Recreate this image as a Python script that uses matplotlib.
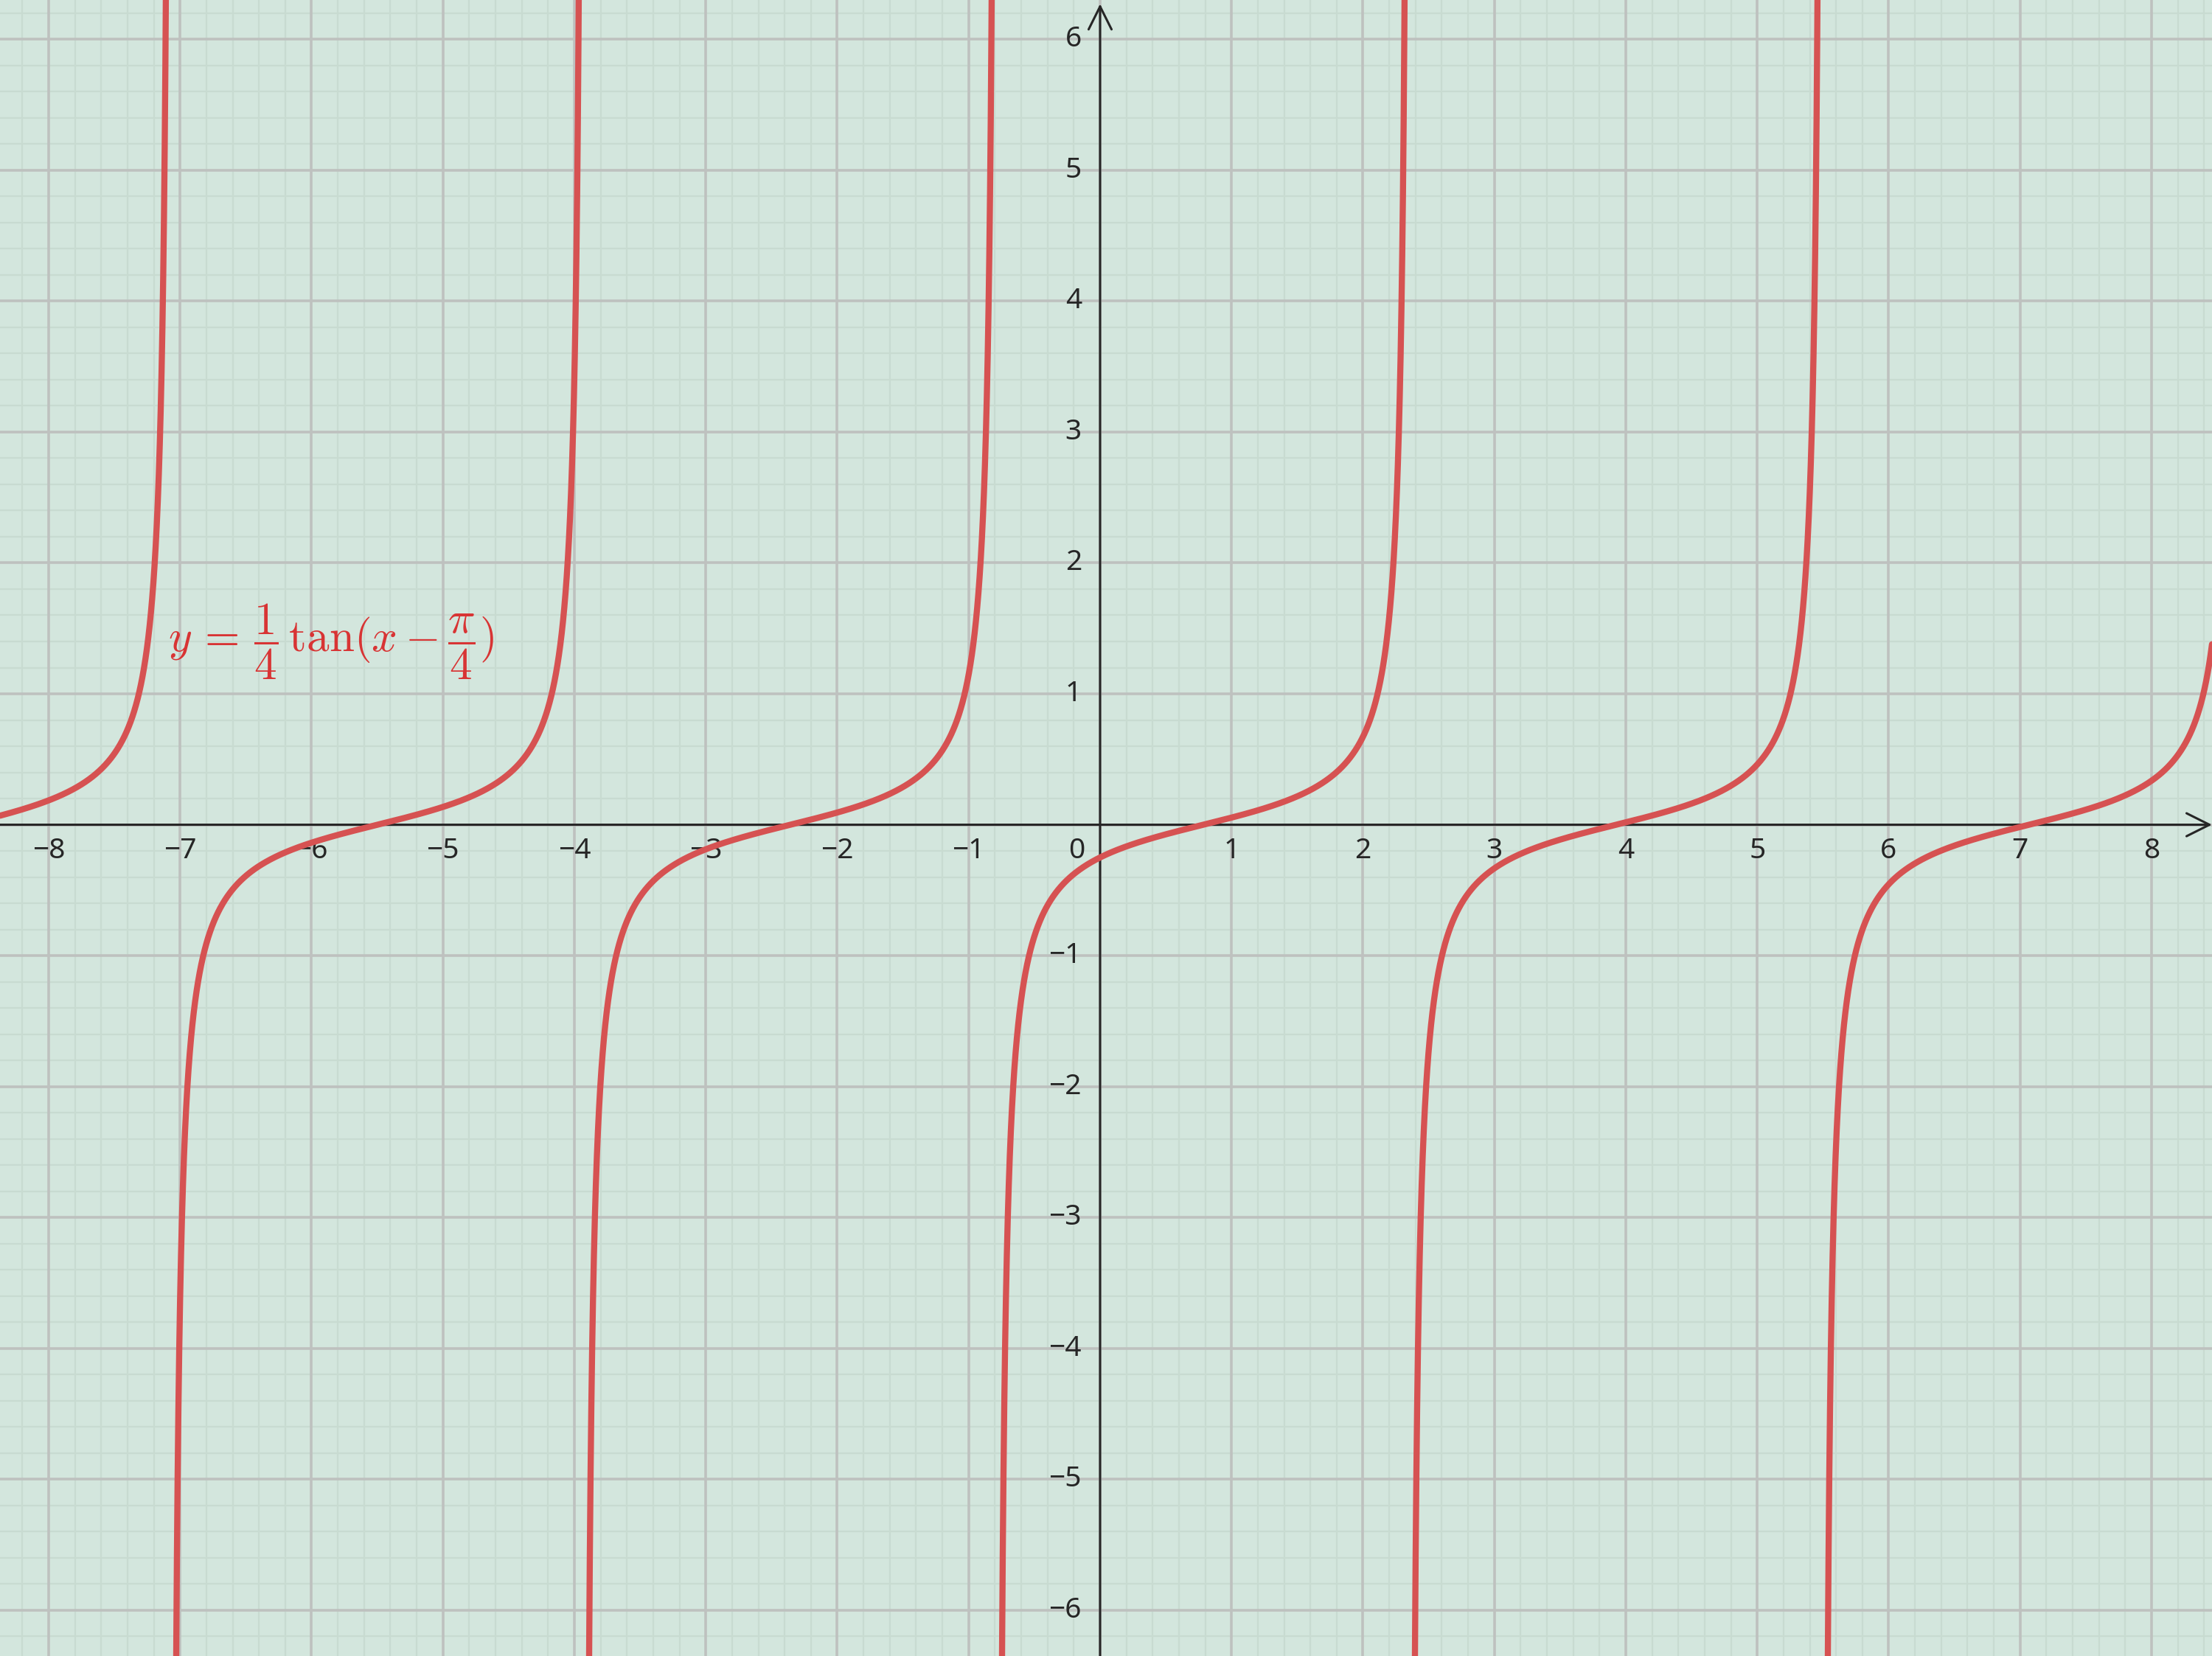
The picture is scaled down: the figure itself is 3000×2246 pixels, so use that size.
import numpy as np
import matplotlib.pyplot as plt

# function being graphed: y = a * tan(x - phase)
amplitude = 0.25
phase = np.pi / 4

x_lim = (-8.37, 8.46)
y_lim = (-6.35, 6.30)
x_ticks = [-8, -7, -6, -5, -4, -3, -2, -1, 1, 2, 3, 4, 5, 6, 7, 8]
y_ticks = [-6, -5, -4, -3, -2, -1, 1, 2, 3, 4, 5, 6]
label_text = r'$y\,=\,\dfrac{1}{4}\,\tan(x-\dfrac{\pi}{4})$'

bg = '#d3e6dd'
curve_col = '#d65252'
text_col = '#d83434'
ink = '#262626'

plt.rcParams['font.family'] = ['Noto Sans', 'DejaVu Sans']
plt.rcParams['mathtext.fontset'] = 'cm'

fig = plt.figure(figsize=(15, 11.23), dpi=200)
ax = fig.add_axes([0, 0, 1, 1])
ax.set_facecolor(bg)
ax.set_xlim(*x_lim)
ax.set_ylim(*y_lim)
for s in ax.spines.values():
    s.set_visible(False)
ax.set_xticks([])
ax.set_yticks([])

# grid: minor every 0.2, major every 1
for v in np.arange(-8.4, 8.6, 0.2):
    if abs(v - round(v)) > 1e-6:
        ax.axvline(v, color='#c8dbd1', lw=0.8, zorder=1)
for v in np.arange(-6.4, 6.4, 0.2):
    if abs(v - round(v)) > 1e-6:
        ax.axhline(v, color='#c8dbd1', lw=0.8, zorder=1)
for v in range(-9, 10):
    ax.axvline(v, color='#bec1bf', lw=1.3, zorder=2)
for v in range(-7, 8):
    ax.axhline(v, color='#bec1bf', lw=1.3, zorder=2)

# axes with open arrow heads
ax.annotate('', xy=(x_lim[1], 0), xytext=(x_lim[0], 0),
            arrowprops=dict(arrowstyle='->', color=ink, lw=1.1,
                            mutation_scale=28, shrinkA=0, shrinkB=0), zorder=3)
ax.annotate('', xy=(0, y_lim[1] - 0.03), xytext=(0, y_lim[0]),
            arrowprops=dict(arrowstyle='->', color=ink, lw=1.1,
                            mutation_scale=28, shrinkA=0, shrinkB=0), zorder=3)

# tick labels
for t in x_ticks:
    lab = str(t).replace('-', '\u2212')
    ax.annotate(lab, (t, 0), xytext=(0, -12.6), textcoords='offset points',
                ha='center', va='center', fontsize=14, color=ink, zorder=4)
ax.annotate('0', (0, 0), xytext=(-7.5, -12.6), textcoords='offset points',
            ha='right', va='center', fontsize=14, color=ink, zorder=4)
for t in y_ticks:
    lab = str(t).replace('-', '\u2212')
    ax.annotate(lab, (0, t), xytext=(-9, 0), textcoords='offset points',
                ha='right', va='center', fontsize=14, color=ink, zorder=4)

# curve
x = np.linspace(x_lim[0], x_lim[1], 200001)
y = amplitude * np.tan(x - phase)
y[np.abs(y) > 60] = np.nan
ax.plot(x, y, color=curve_col, lw=3.0, zorder=5, solid_capstyle='round')

ax.text(-7.09, 1.40, label_text, color=text_col, fontsize=22,
        ha='left', va='center', zorder=6)

fig.savefig('out.png', dpi=200, facecolor=bg)
